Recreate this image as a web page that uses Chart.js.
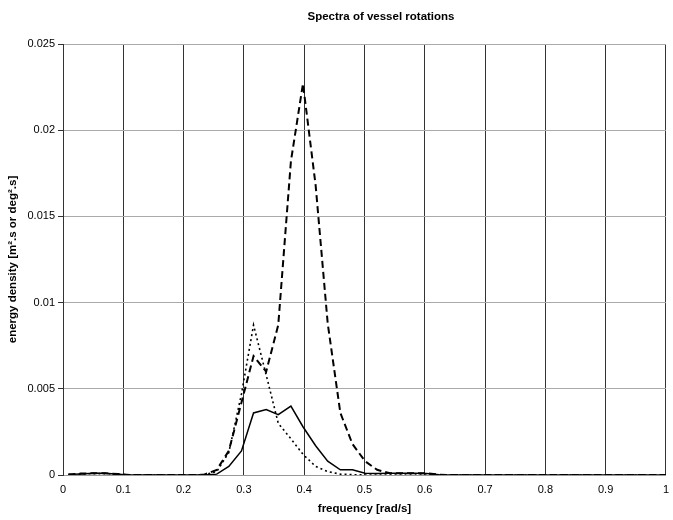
<!DOCTYPE html>
<html>
<head>
<meta charset="utf-8">
<script src="https://cdn.jsdelivr.net/npm/chart.js@4.4.0/dist/chart.umd.min.js"></script>
<style>
  html, body { margin: 0; padding: 0; background: #fff; overflow: hidden; }
  #wrap { width: 677px; height: 520px; }
</style>
</head>
<body>
<div id="wrap"><canvas id="spectra"></canvas></div>
<script>
const chartTitle = 'Spectra of vessel rotations';

// frequency [rad/s]
const freq = [0.009, 0.029, 0.050, 0.070, 0.091, 0.111, 0.132, 0.152, 0.173, 0.193,
              0.214, 0.234, 0.255, 0.275, 0.296, 0.316, 0.337, 0.357, 0.378, 0.398,
              0.419, 0.439, 0.460, 0.480, 0.501, 0.521, 0.542, 0.562, 0.583, 0.603,
              0.624, 0.644, 0.750, 0.875, 1.000];

// energy density, three rotation spectra
const dashedSeries = [0.00003, 0.00008, 0.0001, 0.0001, 0.00006, 0, 0, 0, 0, 0,
                      0, 0.00002, 0.0003, 0.0014, 0.0042, 0.0069, 0.0060, 0.0087, 0.0182, 0.0227,
                      0.0168, 0.0088, 0.0036, 0.0018, 0.0008, 0.0003, 0.0001, 0.0001, 0.0001, 0.0001,
                      0.00002, 0, 0, 0, 0];
const dottedSeries = [0.00002, 0.00005, 0.00008, 0.00008, 0.00004, 0, 0, 0, 0, 0,
                      0, 0.00001, 0.0002, 0.0013, 0.0047, 0.0087, 0.0058, 0.0030, 0.0021, 0.0012,
                      0.0005, 0.0002, 0.00005, 0.00002, 0, 0, 0, 0, 0, 0,
                      0, 0, 0, 0, 0];
const solidSeries = [0.00003, 0.00006, 0.0001, 0.0001, 0.00005, 0, 0, 0, 0, 0,
                     0, 0, 0.00005, 0.0005, 0.0014, 0.0036, 0.0038, 0.0035, 0.0040, 0.0028,
                     0.0017, 0.0008, 0.0003, 0.0003, 0.0001, 0.00008, 0.0001, 0.0001, 0.0001, 0.00008,
                     0.00002, 0, 0, 0, 0];

const toPoints = (values) => freq.map((f, i) => ({ x: f, y: values[i] }));

const fmt = (v) => String(Number(v.toFixed(3)));

const titlePlugin = {
    id: 'titleText',
    afterDraw(chart) {
        const c = chart.ctx;
        c.save();
        c.font = 'bold 11.5px "Liberation Sans", Arial, sans-serif';
        c.fillStyle = '#000';
        c.textAlign = 'center';
        c.textBaseline = 'middle';
        c.fillText(chartTitle, 381, 17);
        c.restore();
    }
};

const lineSet = (values, dash, width) => ({
    data: toPoints(values),
    borderColor: '#000',
    borderWidth: width,
    borderDash: dash,
    pointRadius: 0,
    tension: 0,
    fill: false
});

new Chart(document.getElementById('spectra'), {
    type: 'line',
    data: {
        datasets: [
            lineSet(dashedSeries, [7, 4], 2),
            lineSet(dottedSeries, [2, 3], 1.6),
            lineSet(solidSeries, [], 1.5)
        ]
    },
    options: {
        responsive: true,
        maintainAspectRatio: false,
        animation: false,
        layout: { padding: { top: 44, left: 0, right: 0, bottom: 0 } },
        plugins: { legend: { display: false }, tooltip: { enabled: false } },
        scales: {
            x: {
                type: 'linear',
                min: 0,
                max: 1,
                afterFit: (s) => { s.height = 45; },
                ticks: {
                    stepSize: 0.1,
                    padding: 8,
                    color: '#000',
                    font: { family: '"Liberation Sans", Arial, sans-serif', size: 11 },
                    maxRotation: 0,
                    callback: (v) => fmt(v)
                },
                grid: { color: '#333', lineWidth: 1, drawTicks: false },
                border: { color: '#999', width: 1 },
                title: {
                    display: true,
                    text: 'frequency [rad/s]',
                    color: '#000',
                    padding: { top: 0, bottom: 4 },
                    font: { family: '"Liberation Sans", Arial, sans-serif', size: 11.5, weight: 'bold' }
                }
            },
            y: {
                min: 0,
                max: 0.025,
                afterFit: (s) => { s.width = 63; },
                ticks: {
                    stepSize: 0.005,
                    padding: 3,
                    color: '#000',
                    font: { family: '"Liberation Sans", Arial, sans-serif', size: 11 },
                    callback: (v) => fmt(v)
                },
                grid: { color: '#aaa', lineWidth: 1, tickLength: 5, tickColor: '#333' },
                border: { color: '#333', width: 1 },
                title: {
                    display: true,
                    text: 'energy density [m².s or deg².s]',
                    color: '#000',
                    padding: { top: 6, bottom: 0 },
                    font: { family: '"Liberation Sans", Arial, sans-serif', size: 11.5, weight: 'bold' }
                }
            }
        }
    },
    plugins: [titlePlugin]
});
</script>
</body>
</html>
